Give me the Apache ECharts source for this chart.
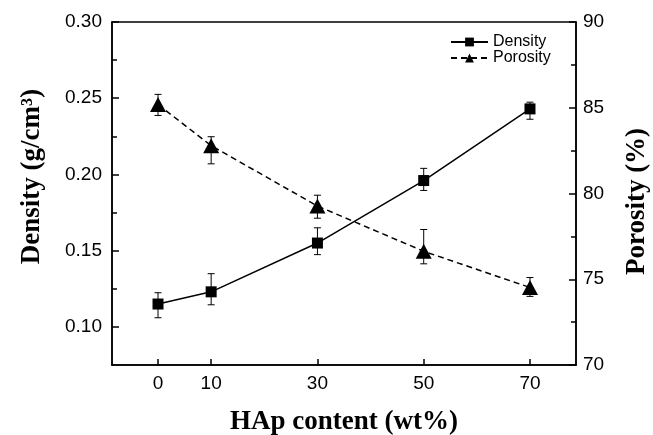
<!DOCTYPE html>
<html>
<head>
<meta charset="utf-8">
<script src="https://cdn.jsdelivr.net/npm/echarts@6/dist/echarts.min.js"></script>
<style>
  html, body { margin: 0; padding: 0; background: #fff; }
  #main { width: 653px; height: 435px; }
</style>
</head>
<body>
<div id="main"></div>
<script>
// HAp content (wt%)
var hap = [0, 10, 30, 50, 70];
// density g/cm3, with error bar ends
var density = [0.115, 0.123, 0.155, 0.196, 0.243];
var densityLow = [0.106, 0.1145, 0.1474, 0.1895, 0.2362];
var densityHigh = [0.1224, 0.1349, 0.165, 0.204, 0.2474];
// porosity %, with error bar ends
var porosity = [85.19, 82.79, 79.27, 76.63, 74.52];
var porosityLow = [84.55, 81.73, 78.56, 75.9, 74.0];
var porosityHigh = [85.78, 83.31, 79.9, 77.9, 75.1];

var xTicks = [0, 10, 30, 50, 70];
var leftTicks = [0.10, 0.15, 0.20, 0.25, 0.30];
var leftMinor = [0.125, 0.175, 0.225, 0.275];

var myChart = echarts.init(document.getElementById('main'));

function errData(vals, lo, hi) {
    var out = [];
    for (var i = 0; i < hap.length; i++) out.push([hap[i], vals[i], lo[i], hi[i]]);
    return out;
}

function errRender(params, api) {
    var x = api.value(0);
    var lo = api.coord([x, api.value(2)]);
    var hi = api.coord([x, api.value(3)]);
    var c = 3.5;
    var st = { stroke: '#000', lineWidth: 1 };
    return {
        type: 'group',
        children: [
            { type: 'line', shape: { x1: lo[0], y1: lo[1], x2: hi[0], y2: hi[1] }, style: st },
            { type: 'line', shape: { x1: lo[0] - c, y1: lo[1], x2: lo[0] + c, y2: lo[1] }, style: st },
            { type: 'line', shape: { x1: hi[0] - c, y1: hi[1], x2: hi[0] + c, y2: hi[1] }, style: st }
        ]
    };
}

var tickFont = { color: '#000', fontFamily: 'Liberation Sans, Arial', fontSize: 19 };
var titleFont = { color: '#000', fontFamily: 'Liberation Serif, Times New Roman', fontSize: 27, fontWeight: 'bold' };

var option = {
    animation: false,
    backgroundColor: '#fff',
    grid: { left: 112, right: 77, top: 22, bottom: 70, outerBoundsMode: 'none', containLabel: false,
        show: true, borderColor: '#000', borderWidth: 1.5, backgroundColor: 'transparent' },
    legend: {
        left: 450, top: 34, orient: 'vertical', itemGap: 0, padding: 0,
        itemWidth: 37, itemHeight: 11,
        textStyle: { color: '#000', fontFamily: 'Liberation Sans, Arial', fontSize: 16 },
        data: ['Density', 'Porosity']
    },
    xAxis: {
        type: 'value', min: -8.66, max: 78.66,
        name: 'HAp content (wt%)', nameLocation: 'middle', nameGap: 44,
        nameTextStyle: titleFont,
        axisLine: { onZero: false, lineStyle: { color: '#000', width: 1.5 } },
        axisTick: { inside: true, length: 6, customValues: xTicks, lineStyle: { color: '#000', width: 1.5 } },
        axisLabel: { customValues: xTicks, margin: 9, ...tickFont },
        splitLine: { show: false }
    },
    yAxis: [{
        type: 'value', min: 0.075, max: 0.30, position: 'left',
        name: 'Density (g/cm³)', nameLocation: 'middle', nameGap: 66,
        nameTextStyle: { ...titleFont, padding: [0, 0, 0, 34] },
        axisLine: { show: true, onZero: false, lineStyle: { color: '#000', width: 1.5 } },
        axisTick: { inside: true, length: 7, customValues: leftTicks, lineStyle: { color: '#000', width: 1.5 } },
        axisLabel: { customValues: leftTicks, margin: 10, formatter: function (v) { return v.toFixed(2); }, ...tickFont },
        splitLine: { show: false }
    }, {
        type: 'value', min: 70, max: 90, interval: 5, position: 'right',
        name: 'Porosity (%)', nameLocation: 'middle', nameGap: 48, nameRotate: 90,
        nameTextStyle: { ...titleFont, padding: [0, 16, 0, 0] },
        axisLine: { show: true, onZero: false, lineStyle: { color: '#000', width: 1.5 } },
        axisTick: { inside: true, length: 7, lineStyle: { color: '#000', width: 1.5 } },
        minorTick: { show: true, splitNumber: 2, length: 5, lineStyle: { color: '#000', width: 1.5 } },
        axisLabel: { margin: 7, ...tickFont },
        splitLine: { show: false }
    }, {
        // minor ticks for the density axis
        type: 'value', min: 0.075, max: 0.30, position: 'left',
        axisLine: { show: false, onZero: false },
        axisTick: { inside: true, length: 5, customValues: leftMinor, lineStyle: { color: '#000', width: 1.5 } },
        axisLabel: { show: false },
        splitLine: { show: false }
    }],
    series: [{
        type: 'custom', yAxisIndex: 0, z: 1, silent: true,
        renderItem: errRender,
        data: errData(density, densityLow, densityHigh)
    }, {
        type: 'custom', yAxisIndex: 1, z: 1, silent: true,
        renderItem: errRender,
        data: errData(porosity, porosityLow, porosityHigh)
    }, {
        name: 'Density', type: 'line', yAxisIndex: 0, z: 3,
        symbol: 'rect', symbolSize: 11,
        itemStyle: { color: '#000' },
        lineStyle: { color: '#000', width: 1.5 },
        data: hap.map(function (x, i) { return [x, density[i]]; })
    }, {
        name: 'Porosity', type: 'line', yAxisIndex: 1, z: 3,
        symbol: 'triangle', symbolSize: [16, 15],
        itemStyle: { color: '#000' },
        lineStyle: { color: '#000', width: 1.5, type: [6, 4] },
        data: hap.map(function (x, i) { return [x, porosity[i]]; })
    }]
};

myChart.setOption(option);
</script>
</body>
</html>
